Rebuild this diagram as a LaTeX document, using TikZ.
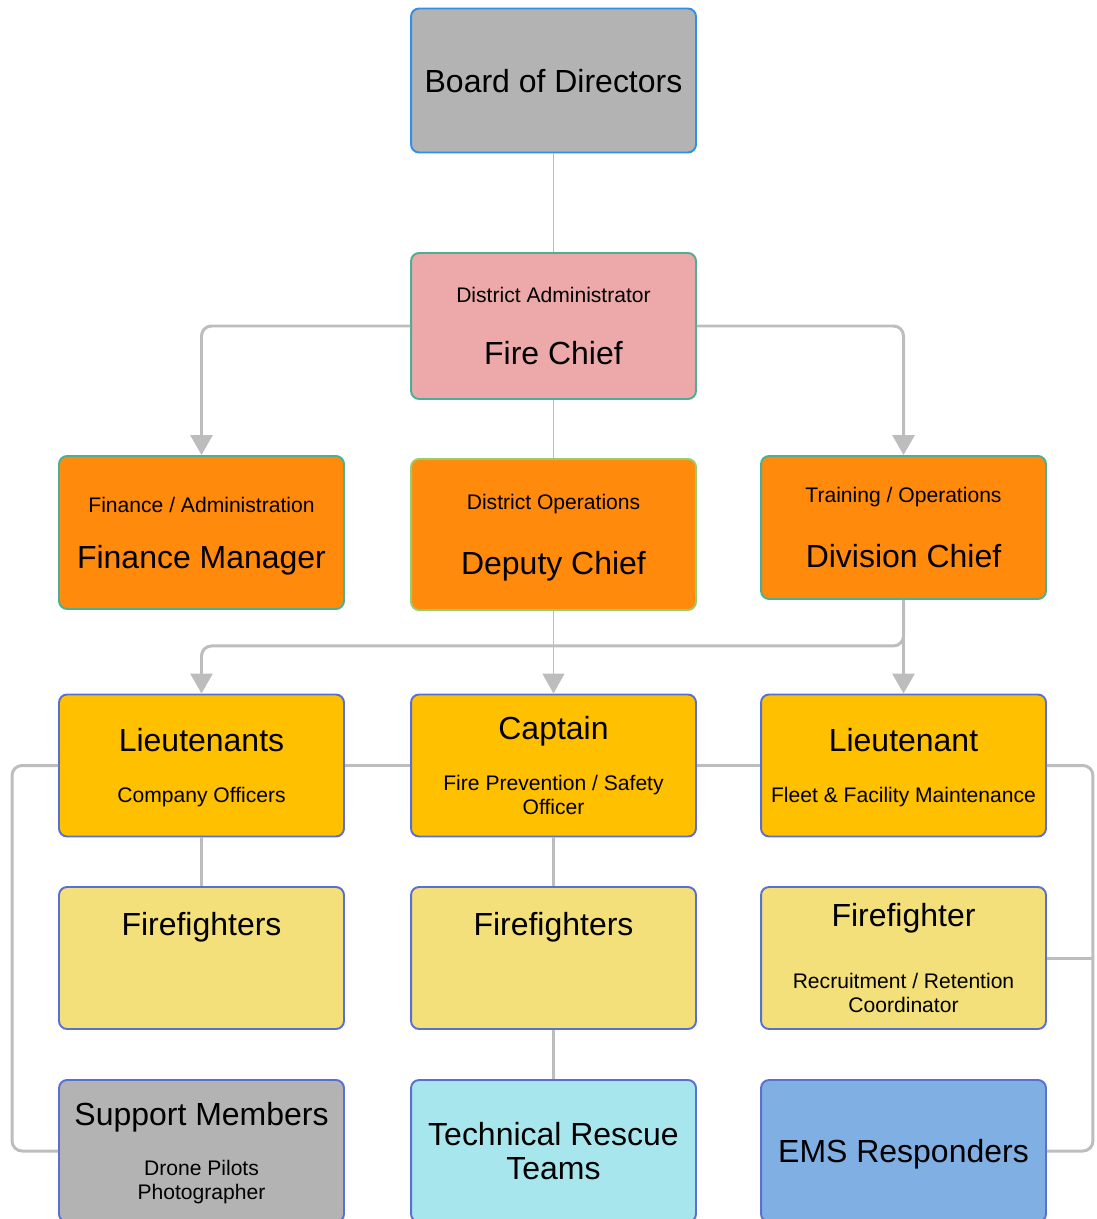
\documentclass[tikz,border=0pt]{standalone}
\usepackage{fontspec}
\setmainfont{Liberation Sans}
\usetikzlibrary{arrows.meta}

\definecolor{boardgray}{HTML}{B3B3B3}
\definecolor{chiefpink}{HTML}{EDA9A9}
\definecolor{officeorange}{HTML}{FF8A0B}
\definecolor{officeramber}{HTML}{FFC000}
\definecolor{crewyellow}{HTML}{F3E07A}
\definecolor{rescuecyan}{HTML}{A8E6EE}
\definecolor{emsblue}{HTML}{7FAFE3}
\definecolor{edgeblue}{HTML}{2E90E6}
\definecolor{edgeteal}{HTML}{4CAF93}
\definecolor{edgegreen}{HTML}{93CF6E}
\definecolor{edgeindigo}{HTML}{5A70D0}
\definecolor{linkgray}{HTML}{BDBDBD}

\newcommand{\bigfs}{\fontsize{18.2}{21}\selectfont}
\newcommand{\smfs}{\fontsize{12}{14}\selectfont}

\begin{document}
\begin{tikzpicture}[x=0.02cm, y=-0.02cm,
    unit/.style={rectangle, draw, rounded corners=0.16cm, line width=1.1pt, minimum width=5.7cm, minimum height=2.84cm, text centered, align=center, text depth=0pt, font=\bigfs},
    link/.style={draw=linkgray, line width=0.9pt},
    bus/.style={draw=linkgray, line width=1.7pt, rounded corners=0.2cm},
    arrow/.style={-{Triangle[width=0.44cm,length=0.4cm]}, linkgray}
]
\clip (0,0) rectangle (1096,1219);

% Top levels
\node[unit, fill=boardgray, draw=edgeblue, minimum height=2.88cm] (board) at (553.5,80.5) {Board of Directors};
\node[unit, fill=chiefpink, draw=edgeteal, minimum height=2.92cm] (chief) at (553.5,326) {{\smfs District Administrator}\\[14pt]Fire Chief};

% Chiefs and managers
\node[unit, fill=officeorange, draw=edgeteal, minimum height=3.06cm] (fin) at (201.5,532.5) {{\smfs Finance / Administration}\\[10.8pt]Finance Manager};
\node[unit, fill=officeorange, draw=edgegreen, minimum height=3.02cm] (dep) at (553.5,534.5) {{\smfs District Operations}\\[16.4pt]Deputy Chief};
\node[unit, fill=officeorange, draw=edgeteal, minimum height=2.86cm] (div) at (903.5,527.5) {{\smfs Training / Operations}\\[16.4pt]Division Chief};

% Officers
\node[unit, fill=officeramber, draw=edgeindigo] (ltL) at (201.5,765.5) {Lieutenants\\[7.6pt]{\smfs Company Officers}};
\node[unit, fill=officeramber, draw=edgeindigo] (capt) at (553.5,765.5) {Captain\\[7.6pt]{\smfs Fire Prevention / Safety}\\[-7.3pt]{\smfs Officer}};
\node[unit, fill=officeramber, draw=edgeindigo] (ltR) at (903.5,765.5) {Lieutenant\\[7.6pt]{\smfs Fleet \& Facility Maintenance}};

% Crews
\node[unit, fill=crewyellow, draw=edgeindigo, text depth=1.37cm] (ffL) at (201.5,958) {Firefighters};
\node[unit, fill=crewyellow, draw=edgeindigo, text depth=1.37cm] (ffM) at (553.5,958) {Firefighters};
\node[unit, fill=crewyellow, draw=edgeindigo] (ffR) at (903.5,958) {Firefighter\\[13.8pt]{\smfs Recruitment / Retention}\\[-7.3pt]{\smfs Coordinator}};

% Teams
\node[unit, fill=boardgray, draw=edgeindigo] (sup) at (201.5,1151) {Support Members\\[7.6pt]{\smfs Drone Pilots}\\[-7.3pt]{\smfs Photographer}};
\node[unit, fill=rescuecyan, draw=edgeindigo] (tech) at (553.5,1151) {Technical Rescue\\[-1.7pt]Teams};
\node[unit, fill=emsblue, draw=edgeindigo] (ems) at (903.5,1151) {EMS Responders};

% Connections
\draw[link] (board) -- (chief);
\draw[link] (chief) -- (dep);
\draw[bus, arrow] (chief.west) -| (fin.north);
\draw[bus, arrow] (chief.east) -| (div.north);
\draw[link, arrow] (dep) -- (capt);
\draw[bus, arrow] (div) -- (ltR);
\draw[bus, arrow] (div.south) -- ++(0,46) -| (ltL.north);

\draw[bus] (ltL) -- (capt);
\draw[bus] (capt) -- (ltR);
\draw[bus] (ltL) -- (ffL);
\draw[bus] (capt) -- (ffM);
\draw[bus] (ffM) -- (tech);

% Side lines
\draw[bus] (ltL.west) -- ++(-46,0) |- (sup.west);
\draw[bus] (ltR.east) -- ++(46,0) |- (ems.east);
\coordinate (rbus) at (1092,958);
\draw[bus] (ffR.east) -- (rbus);

\end{tikzpicture}
\end{document}
